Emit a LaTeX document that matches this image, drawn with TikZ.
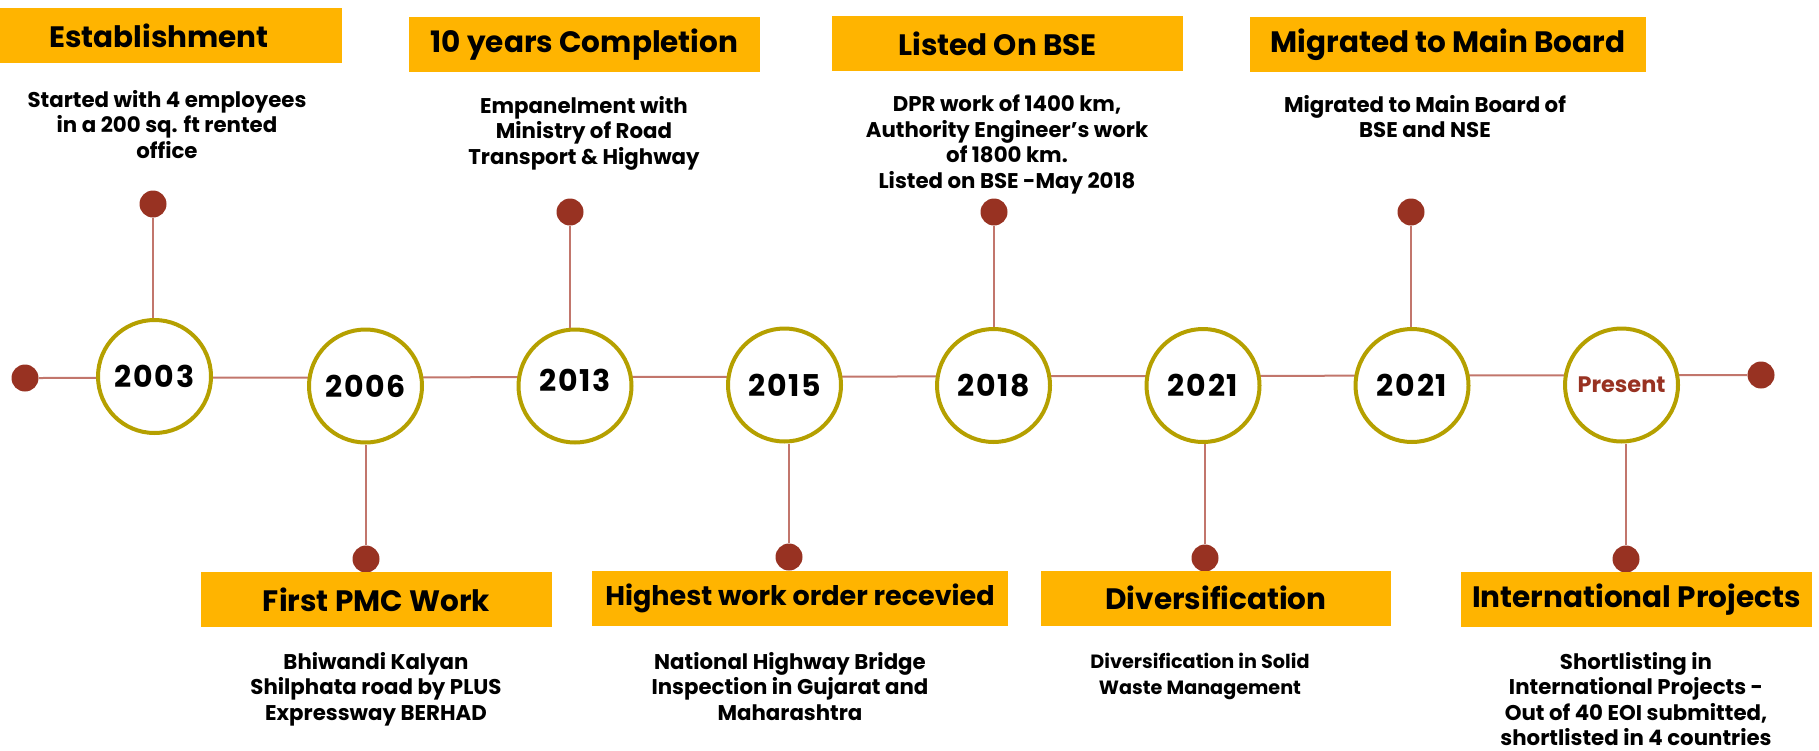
\documentclass[tikz,border=0pt]{standalone}
\usepackage{fontspec}
\setmainfont{Poppins}
\usepackage{tikz}

\definecolor{boxyellow}{RGB}{255,180,0}
\definecolor{ringgold}{RGB}{181,160,0}
\definecolor{knobred}{RGB}{152,50,34}
\definecolor{stemred}{RGB}{194,118,108}

\begin{document}
\begin{tikzpicture}[x=1pt,y=-1pt,
    yearring/.style={circle,draw=ringgold,line width=4pt,fill=white,minimum size=113pt,inner sep=0pt,font=\fontsize{30}{30}\selectfont\bfseries\addfontfeature{LetterSpace=6}},
    knob/.style={circle,fill=knobred,minimum size=27pt,inner sep=0pt},
    banner/.style={fill=boxyellow,minimum height=55pt,inner sep=0pt,font=\fontsize{29.5}{29.5}\selectfont\bfseries},
    info/.style={align=center,anchor=north,inner sep=0pt,font=\fontsize{21.3}{25.5}\selectfont\bfseries},
    stem/.style={draw=stemred,line width=2pt}]
        \useasboundingbox (0,0) rectangle (1819,750);
        % end points and stalk heads
        \node [knob] (L) at (25,378) {};
        \node [knob] (R) at (1761,375) {};
        \node [knob] (t1) at (153,204) {};
        \node [knob] (t3) at (570,212) {};
        \node [knob] (t5) at (994,212) {};
        \node [knob] (t7) at (1411,212) {};
        \node [knob] (b2) at (366,559) {};
        \node [knob] (b4) at (789,557) {};
        \node [knob] (b6) at (1205,558) {};
        \node [knob] (b8) at (1626,559) {};
        \draw [stem] (L.east) to (R.west);
        % years
        \node [yearring] (c1) at (154.5,376.5) {2003};
        \node [yearring] (c2) at (365.5,386) {2006};
        \node [yearring] (c3) at (575,386) {\raisebox{12pt}{2013}};
        \node [yearring] (c4) at (784.5,385) {2015};
        \node [yearring] (c5) at (993.5,385.5) {2018};
        \node [yearring] (c6) at (1203,385.5) {2021};
        \node [yearring] (c7) at (1412,385.5) {2021};
        \node [yearring, text=knobred, font=\fontsize{22.4}{22.4}\selectfont\bfseries] (c8) at (1621.5,385) {Present};
        \draw [stem] (t1.south) to (t1 |- c1.north);
        \draw [stem] (t3.south) to (t3 |- c3.north);
        \draw [stem] (t5.south) to (t5 |- c5.north);
        \draw [stem] (t7.south) to (t7 |- c7.north);
        \draw [stem] (b2.north) to (b2 |- c2.south);
        \draw [stem] (b4.north) to (b4 |- c4.south);
        \draw [stem] (b6.north) to (b6 |- c6.south);
        \draw [stem] (b8.north) to (b8 |- c8.south);
        % headings
        \node [banner, minimum width=342pt] (h1) at (171,35.5) {\hspace*{-24pt}Establishment};
        \node [banner, minimum width=351pt] (h3) at (584.5,44.5) {10 years Completion};
        \node [banner, minimum width=351pt] (h5) at (1007.5,43.5) {\hspace*{-20pt}Listed On BSE};
        \node [banner, minimum width=396pt] (h7) at (1448,44.5) {Migrated to Main Board};
        \node [banner, minimum width=351pt] (h2) at (376.5,599.5) {First PMC Work};
        \node [banner, minimum width=416pt, font=\fontsize{27}{27}\selectfont\bfseries] (h4) at (800,598.5) {Highest work order recevied};
        \node [banner, minimum width=350pt] (h6) at (1216,598) {Diversification};
        \node [banner, minimum width=351pt] (h8) at (1636.5,599.5) {International Projects};
        % descriptions
        \node [info] (d1) at (167,90) {Started with 4 employees\\in a 200 sq. ft rented\\office};
        \node [info] (d3) at (584,96) {Empanelment with\\Ministry of Road\\Transport \& Highway};
        \node [info] (d5) at (1007,95) {DPR work of 1400 km,\\Authority Engineer's work\\of 1800 km.\\Listed on BSE -May 2018};
        \node [info] (d7) at (1425,95) {Migrated to Main Board of\\BSE and NSE};
        \node [info] (d2) at (376,652) {Bhiwandi Kalyan\\Shilphata road by PLUS\\Expressway BERHAD};
        \node [info] (d4) at (790,652) {National Highway Bridge\\Inspection in Gujarat and\\Maharashtra};
        \node [info, font=\fontsize{19.2}{25.5}\selectfont\bfseries] (d6) at (1200,653) {Diversification in Solid\\Waste Management};
        \node [info] (d8) at (1636,652) {Shortlisting in\\International Projects -\\Out of 40 EOI submitted,\\shortlisted in 4 countries};
\end{tikzpicture}
\end{document}
